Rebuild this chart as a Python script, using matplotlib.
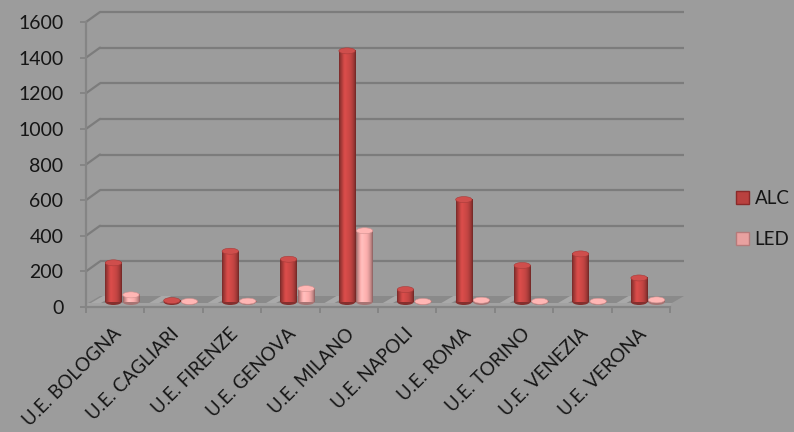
import matplotlib
matplotlib.use("Agg")
import matplotlib.pyplot as plt
import numpy as np
from matplotlib.transforms import ScaledTranslation, blended_transform_factory
from matplotlib.patches import Rectangle, Ellipse, Polygon, ConnectionPatch, Patch
from matplotlib.colors import to_rgb

# ---------------- data ----------------
categories = ["U.E. BOLOGNA", "U.E. CAGLIARI", "U.E. FIRENZE", "U.E. GENOVA",
              "U.E. MILANO", "U.E. NAPOLI", "U.E. ROMA", "U.E. TORINO",
              "U.E. VENEZIA", "U.E. VERONA"]
alc = [220, 8, 285, 240, 1410, 70, 575, 205, 270, 135]
led = [40, 3, 5, 75, 400, 3, 10, 4, 4, 12]
series_names = ["ALC", "LED"]
yticks = [0, 200, 400, 600, 800, 1000, 1200, 1400, 1600]

# ---------------- style ----------------
BG = "#9c9c9c"
GRID = "#7c7c7c"
AXC = "#858585"
TXT = "#151515"
C_ALC = "#b9413f"
C_LED = "#e8a1a0"
FONT = "Lato"

plt.rcParams["font.family"] = [FONT, "DejaVu Sans"]

W, H = 794, 432
fig = plt.figure(figsize=(W / 100, H / 100), dpi=100, facecolor=BG)
ax = fig.add_axes([86 / W, (H - 307) / H, 584 / W, 285 / H])
ax.set_facecolor("none")
n = len(categories)
ax.set_xlim(-0.5, n - 0.5)
ax.set_ylim(0, 1600)
ax.set_autoscale_on(False)


def px(dx, dy):
    return ScaledTranslation(dx / 100, dy / 100, fig.dpi_scale_trans)


back = ax.transData + px(14, 10)
mid = ax.transData + px(7, 5)

ux = (n) / 584.0
uy = 1600 / 285.0

# ---------------- back wall grid ----------------
for v in yticks[1:]:
    ax.plot([-0.5, n - 0.5], [v, v], transform=back, color=GRID, lw=1.6,
            clip_on=False, zorder=0.5, solid_capstyle="butt")
    cp = ConnectionPatch((-0.5, v), (-0.5, v), coordsA=ax.transData, coordsB=back,
                         color=GRID, lw=1.6, zorder=0.5, clip_on=False)
    ax.add_artist(cp)

# ---------------- floor ----------------
fx, fy = 2 * ux, 4 * uy
bx, by = 14 * ux, 11 * uy
floor = Polygon([(-0.5 + fx, fy), (n - 0.5 + fx, fy), (n - 0.5 + bx, by), (-0.5 + bx, by)],
                closed=True, facecolor="#8a8a8a", edgecolor="none", zorder=1, clip_on=False)
ax.add_patch(floor)
for i in range(n):
    x0 = i - 0.5 + 0.05
    x1 = i - 0.5 + 0.22
    stripe = Polygon([(x0 + fx, fy), (x1 + fx, fy), (x1 + bx, by), (x0 + bx, by)],
                     closed=True, facecolor="#a9a9a9", edgecolor="none", zorder=1.1,
                     clip_on=False)
    ax.add_patch(stripe)
front = Polygon([(-0.5, 0), (n - 0.5, 0), (n - 0.5 + fx, fy), (-0.5 + fx, fy)],
                closed=True, facecolor="#a2a2a2", edgecolor="none", zorder=1, clip_on=False)
ax.add_patch(front)

# ---------------- cylinders ----------------
bw = 0.28
eh = 6 * uy
t = np.linspace(0, 1, 80)
shade = 0.62 + 0.5 * np.sin(np.pi * t) ** 0.7 - 0.12 * (t - 0.35) ** 2
shade = shade + 0.10 * np.exp(-((t - 0.33) / 0.12) ** 2)


def cylinder(xc, val, color, z):
    rgb = np.array(to_rgb(color))
    img = np.clip(rgb[None, None, :] * shade[None, :, None], 0, 1)
    dark = np.clip(rgb * 0.72, 0, 1)
    bottom = Ellipse((xc, 0), bw, eh, transform=mid, facecolor=dark, edgecolor="none",
                     zorder=z, clip_on=False)
    ax.add_patch(bottom)
    rect = Rectangle((xc - bw / 2, 0), bw, val, transform=mid, facecolor="none",
                     edgecolor="none")
    im = ax.imshow(img, extent=[xc - bw / 2, xc + bw / 2, 0, max(val, 1e-3)],
                   aspect="auto", interpolation="bilinear", zorder=z + 0.1,
                   transform=mid, clip_on=False)
    im.set_clip_path(rect)
    topc = np.clip(rgb * 1.08 + 0.03, 0, 1)
    top = Ellipse((xc, val), bw, eh, transform=mid, facecolor=topc,
                  edgecolor=np.clip(rgb * 0.9, 0, 1), lw=0.4, zorder=z + 0.2, clip_on=False)
    ax.add_patch(top)


for i in range(n):
    cylinder(i - bw / 2 - 0.01, alc[i], C_ALC, 3)
    cylinder(i + bw / 2 + 0.01, led[i], C_LED, 3)

ax.set_xlim(-0.5, n - 0.5)
ax.set_ylim(0, 1600)

# ---------------- axes ----------------
for s in ["top", "right"]:
    ax.spines[s].set_visible(False)
for s in ["left", "bottom"]:
    ax.spines[s].set_color(AXC)
    ax.spines[s].set_linewidth(1.6)
    ax.spines[s].set_zorder(2)

ax.set_yticks(yticks)
ax.set_yticklabels([str(v) for v in yticks])
ax.tick_params(axis="y", length=4.3, width=1.4, color=AXC, pad=11.9,
               labelsize=14, labelcolor=TXT)
ax.set_xticks(np.arange(-0.5, n, 1.0))
ax.set_xticklabels([])
ax.tick_params(axis="x", length=4.3, width=1.4, color=AXC)

lab_tr = blended_transform_factory(ax.transData, ax.transAxes) + px(-3, -18)
for i, c in enumerate(categories):
    ax.text(i, 0, c, transform=lab_tr, rotation=45, ha="right", va="top",
            rotation_mode="anchor", fontsize=13.5, color=TXT)

# ---------------- legend ----------------
handles = [Patch(facecolor=C_ALC, edgecolor="#8a2a2a", label=series_names[0]),
           Patch(facecolor=C_LED, edgecolor="#b57a7a", label=series_names[1])]
fig.legend(handles=handles, loc="center left", bbox_to_anchor=(736 / W, 1 - 219 / H),
           frameon=False, fontsize=13.5, handlelength=0.7, handleheight=0.7,
           handletextpad=0.3, labelspacing=1.3, borderpad=0, borderaxespad=0,
           labelcolor=TXT)

fig.savefig("out.png", dpi=100, facecolor=BG)
